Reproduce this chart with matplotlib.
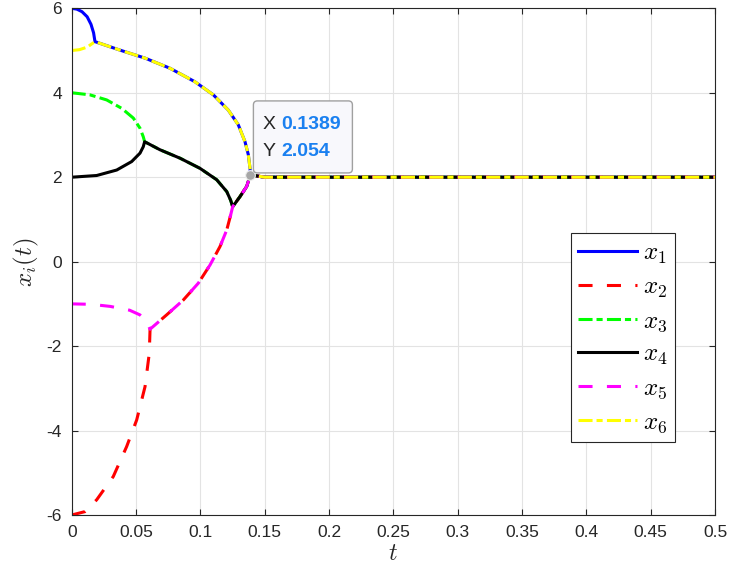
import matplotlib

matplotlib.use("Agg")
import matplotlib.pyplot as plt
import matplotlib.transforms as mtransforms
import numpy as np
from matplotlib.patches import FancyBboxPatch

plt.rcParams["font.family"] = ["Liberation Sans", "DejaVu Sans"]
plt.rcParams["mathtext.fontset"] = "cm"
plt.rcParams["axes.unicode_minus"] = False

# ---- data -----------------------------------------------------------------
# initial phases, one per agent
x1_head_t = [0.0, 0.004, 0.008, 0.012, 0.015, 0.017, 0.0181]
x1_head_x = [6.0, 5.98, 5.92, 5.80, 5.62, 5.42, 5.21]
x6_head_t = [0.0, 0.006, 0.012, 0.0181]
x6_head_x = [5.0, 5.02, 5.08, 5.21]
x3_head_t = [0.0, 0.0142, 0.0272, 0.0389, 0.0479, 0.0531, 0.0556, 0.0567]
x3_head_x = [4.0, 3.95, 3.83, 3.63, 3.40, 3.16, 2.96, 2.84]
x4_head_t = [0.0, 0.0194, 0.035, 0.0466, 0.0531, 0.0556, 0.0567]
x4_head_x = [2.0, 2.04, 2.17, 2.37, 2.57, 2.72, 2.84]
x5_head_t = [0.0, 0.015, 0.03, 0.045, 0.053, 0.058, 0.0609]
x5_head_x = [-1.0, -1.01, -1.06, -1.15, -1.26, -1.40, -1.60]
x2_head_t = [0.0, 0.0103, 0.0194, 0.0323, 0.0427, 0.0505, 0.057, 0.0603, 0.0609]
x2_head_x = [-6.0, -5.92, -5.64, -5.09, -4.38, -3.75, -2.96, -2.17, -1.60]

# merged groups
top_arc_t = [0.0181, 0.0375, 0.0570, 0.0764, 0.0958, 0.1101, 0.1217, 0.1295,
             0.1347, 0.1373, 0.1386, 0.1389]
top_arc_x = [5.21, 5.01, 4.82, 4.58, 4.26, 3.95, 3.59, 3.24, 2.84, 2.53, 2.21, 2.054]
mid_arc_t = [0.0567, 0.0686, 0.0842, 0.0997, 0.1127, 0.1205, 0.1236, 0.1251]
mid_arc_x = [2.84, 2.65, 2.45, 2.21, 1.94, 1.66, 1.45, 1.30]
low_arc_t = [0.0609, 0.0738, 0.0867, 0.0984, 0.1075, 0.1153, 0.1205, 0.1236, 0.1251]
low_arc_x = [-1.60, -1.26, -0.91, -0.51, -0.08, 0.36, 0.75, 1.11, 1.30]
join_t = [0.1251, 0.1308, 0.1360, 0.1389]
join_x = [1.30, 1.54, 1.78, 2.054]
tail_t = [0.1389, 0.15, 0.5]
tail_x = [2.054, 2.0, 2.0]

tip_t, tip_x = 0.1389, 2.054

x_ticks = [0, 0.05, 0.1, 0.15, 0.2, 0.25, 0.3, 0.35, 0.4, 0.45, 0.5]
x_tick_labels = ["0", "0.05", "0.1", "0.15", "0.2", "0.25", "0.3", "0.35", "0.4", "0.45", "0.5"]
y_ticks = [-6, -4, -2, 0, 2, 4, 6]
labels = ["$x_1$", "$x_2$", "$x_3$", "$x_4$", "$x_5$", "$x_6$"]


def chain(*parts):
    ts = np.concatenate([np.asarray(p[0], float) for p in parts])
    xs = np.concatenate([np.asarray(p[1], float) for p in parts])
    return ts, xs


series = [
    chain((x1_head_t, x1_head_x), (top_arc_t, top_arc_x), (tail_t, tail_x)),
    chain((x2_head_t, x2_head_x), (low_arc_t, low_arc_x), (join_t, join_x), (tail_t, tail_x)),
    chain((x3_head_t, x3_head_x), (mid_arc_t, mid_arc_x), (join_t, join_x), (tail_t, tail_x)),
    chain((x4_head_t, x4_head_x), (mid_arc_t, mid_arc_x), (join_t, join_x), (tail_t, tail_x)),
    chain((x5_head_t, x5_head_x), (low_arc_t, low_arc_x), (join_t, join_x), (tail_t, tail_x)),
    chain((x6_head_t, x6_head_x), (top_arc_t, top_arc_x), (tail_t, tail_x)),
]

lw = 2.2
dash = (0, (4.6, 4.7))
dashdot = (0, (4.6, 1.3, 2.0, 1.4))
styles = [
    ("#0000ff", "-"),
    ("#ff0000", dash),
    ("#00ff00", dashdot),
    ("#000000", "-"),
    ("#ff00ff", dash),
    ("#ffff00", dashdot),
]

fig = plt.figure(figsize=(7.3, 5.78), dpi=100)
ax = fig.add_axes([71.7 / 730, 63 / 578, 643.3 / 730, 506.7 / 578])

for (ts, xs), (color, ls), label in zip(series, styles, labels):
    ax.plot(ts, xs, color=color, linestyle=ls, linewidth=lw, label=label,
            solid_joinstyle="round", dash_joinstyle="round")

ax.set_xlim(0, 0.5)
ax.set_ylim(-6, 6)
ax.set_xticks(x_ticks)
ax.set_xticklabels(x_tick_labels)
ax.set_yticks(y_ticks)
ax.grid(True, color="#e3e3e3", linewidth=0.8)
ax.set_axisbelow(True)
text_gray = "#262626"
ax.tick_params(direction="in", length=4.5, width=0.8, colors=text_gray,
               labelsize=12.5, top=True, right=True, pad=7)
for spine in ax.spines.values():
    spine.set_color(text_gray)
    spine.set_linewidth(0.8)

ax.set_xlabel("$t$", fontsize=17, color=text_gray, labelpad=2)
ax.set_ylabel("$x_i(t)$", fontsize=18, color=text_gray, labelpad=4)

leg = ax.legend(loc="upper left", bbox_to_anchor=(0.7757, 0.556), borderaxespad=0,
                fontsize=18, handlelength=2.35, handletextpad=0.25,
                labelspacing=0.34, borderpad=0.3, fancybox=False,
                framealpha=1, edgecolor="#262626")
leg.get_frame().set_linewidth(0.8)

# data tip
ax.plot([tip_t], [tip_x], "o", color="#a6a6a6", markersize=7,
        markeredgecolor="#f0f0f0", markeredgewidth=0.8, zorder=6)
tip_trans = fig.dpi_scale_trans + mtransforms.ScaledTranslation(tip_t, tip_x, ax.transData)
box = FancyBboxPatch((0.03, 0.02), 0.99, 0.72,
                     boxstyle="round,pad=0,rounding_size=0.04",
                     transform=tip_trans, facecolor="#f8f8fc",
                     edgecolor="#a0a0a0", linewidth=1.0, zorder=7, clip_on=False)
ax.add_patch(box)
for dy, name, value in [(0.50, "X", f"{tip_t:.4f}"), (0.235, "Y", f"{tip_x:.3f}")]:
    ax.text(0.12, dy, name, transform=tip_trans, fontsize=14, color=text_gray,
            va="center", ha="left", zorder=8)
    ax.text(0.31, dy, value, transform=tip_trans, fontsize=14, color="#1a80f0",
            fontweight="bold", va="center", ha="left", zorder=8)

fig.savefig("out.png", dpi=100)
